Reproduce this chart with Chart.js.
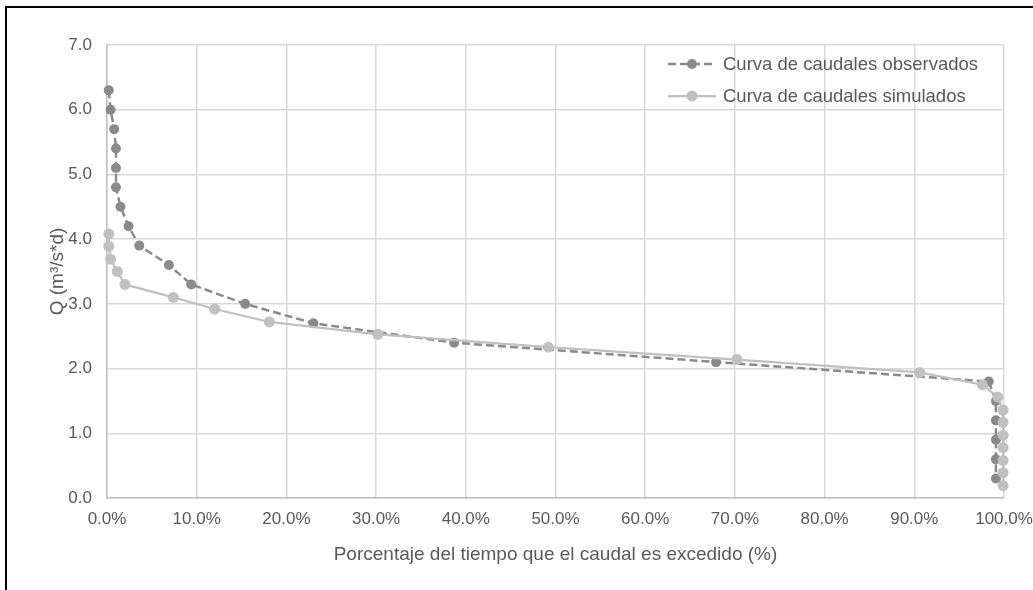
<!DOCTYPE html>
<html lang="es">
<head>
<meta charset="utf-8">
<title>Curva de duración de caudales</title>
<script src="https://cdn.jsdelivr.net/npm/chart.js@4.4.1/dist/chart.umd.min.js"></script>
<style>
  html, body { margin: 0; padding: 0; background: #fff; }
  #wrap { position: relative; width: 1033px; height: 590px; }
  #frame { position: absolute; left: 5px; top: 6px; right: 0; bottom: 0;
           border-top: 2px solid #000; border-left: 2px solid #000; pointer-events: none; }
  canvas { display: block; }
</style>
</head>
<body>
<div id="wrap">
  <canvas id="chart" width="1033" height="590"></canvas>
  <div id="frame"></div>
</div>
<script>
// Curva de caudales observados: % del tiempo excedido y caudal Q (m³/s*d)
const obsPct = [0.2, 0.4, 0.8, 1.0, 1.0, 1.0, 1.5, 2.4, 3.6, 6.9, 9.4, 15.4, 23.0, 38.7, 67.9, 98.3, 99.1, 99.1, 99.1, 99.1, 99.1];
const obsQ   = [6.3, 6.0, 5.7, 5.4, 5.1, 4.8, 4.5, 4.2, 3.9, 3.6, 3.3, 3.0, 2.7, 2.4, 2.1, 1.8, 1.5, 1.2, 0.9, 0.6, 0.3];

// Curva de caudales simulados
const simPct = [0.2, 0.2, 0.4, 1.15, 2.0, 7.4, 12.0, 18.1, 30.2, 49.2, 70.2, 90.6, 97.6, 99.3, 99.9, 99.9, 99.9, 99.9, 99.9, 99.9, 99.9];
const simQ   = [4.08, 3.89, 3.69, 3.50, 3.30, 3.10, 2.92, 2.72, 2.53, 2.33, 2.14, 1.94, 1.75, 1.56, 1.36, 1.17, 0.97, 0.78, 0.58, 0.39, 0.19];

const seriesNames = ['Curva de caudales observados', 'Curva de caudales simulados'];
const xTitle = 'Porcentaje del tiempo que el caudal es excedido (%)';
const yTitle = 'Q (m³/s*d)';

const FONT = '"Liberation Sans", Arial, sans-serif';
const TEXT = '#595959';
const OBS_COLOR = '#8a8a8a';
const SIM_COLOR = '#c0c0c0';

const toXY = (xs, ys) => xs.map((x, i) => ({ x: x, y: ys[i] }));

// Leyenda dibujada dentro del área del gráfico, arriba a la derecha
const insideLegend = {
  id: 'insideLegend',
  afterDatasetsDraw(chart) {
    const ctx = chart.ctx;
    const area = chart.chartArea;
    const x0 = area.right - 336;
    const rows = [area.top + 19, area.top + 51];
    chart.data.datasets.forEach((ds, i) => {
      const y = rows[i];
      ctx.save();
      ctx.strokeStyle = ds.borderColor;
      ctx.lineWidth = ds.borderWidth;
      ctx.setLineDash(ds.borderDash || []);
      ctx.beginPath();
      ctx.moveTo(x0, y);
      ctx.lineTo(x0 + 48, y);
      ctx.stroke();
      ctx.setLineDash([]);
      ctx.fillStyle = ds.pointBackgroundColor;
      ctx.beginPath();
      ctx.arc(x0 + 24, y, ds.pointRadius, 0, Math.PI * 2);
      ctx.fill();
      ctx.fillStyle = TEXT;
      ctx.font = '18.5px ' + FONT;
      ctx.textBaseline = 'middle';
      ctx.textAlign = 'left';
      ctx.fillText(ds.label, x0 + 55, y + 1);
      ctx.restore();
    });
  }
};

new Chart(document.getElementById('chart'), {
  type: 'line',
  data: {
    datasets: [
      {
        label: seriesNames[0],
        data: toXY(obsPct, obsQ),
        borderColor: OBS_COLOR,
        backgroundColor: OBS_COLOR,
        pointBackgroundColor: OBS_COLOR,
        pointBorderColor: OBS_COLOR,
        borderWidth: 2.5,
        borderDash: [8, 4],
        pointRadius: 5,
        pointBorderWidth: 0,
        tension: 0,
        fill: false,
        clip: false,
        order: 2
      },
      {
        label: seriesNames[1],
        data: toXY(simPct, simQ),
        borderColor: SIM_COLOR,
        backgroundColor: SIM_COLOR,
        pointBackgroundColor: SIM_COLOR,
        pointBorderColor: SIM_COLOR,
        borderWidth: 2.25,
        pointRadius: 5.5,
        pointBorderWidth: 0,
        tension: 0,
        fill: false,
        clip: false,
        order: 1
      }
    ]
  },
  options: {
    responsive: false,
    animation: false,
    layout: { padding: { left: 42, right: 29, top: 45, bottom: 24 } },
    plugins: {
      legend: { display: false },
      tooltip: { enabled: false }
    },
    scales: {
      x: {
        type: 'linear',
        min: 0,
        max: 100,
        afterFit: (s) => { s.height = 68; s.paddingRight = 0; s.paddingLeft = 0; },
        ticks: {
          stepSize: 10,
          color: TEXT,
          padding: 11,
          maxRotation: 0,
          font: { family: FONT, size: 17 },
          callback: (v) => v.toFixed(1) + '%'
        },
        grid: { color: '#d9d9d9', lineWidth: 1.5, drawTicks: false },
        border: { color: '#bfbfbf', width: 1.5 },
        title: {
          display: true,
          text: xTitle,
          color: TEXT,
          font: { family: FONT, size: 19 },
          padding: { top: 0, bottom: 0 }
        }
      },
      y: {
        type: 'linear',
        min: 0,
        max: 7,
        afterFit: (s) => { s.width = 65; },
        ticks: {
          stepSize: 1,
          color: TEXT,
          padding: 15,
          font: { family: FONT, size: 17 },
          callback: (v) => v.toFixed(1)
        },
        grid: { color: '#d9d9d9', lineWidth: 1.5, drawTicks: false },
        border: { color: '#bfbfbf', width: 1.5 },
        title: {
          display: true,
          text: yTitle,
          color: TEXT,
          font: { family: FONT, size: 19 },
          padding: { top: 4, bottom: 0 }
        }
      }
    }
  },
  plugins: [insideLegend]
});
</script>
</body>
</html>
